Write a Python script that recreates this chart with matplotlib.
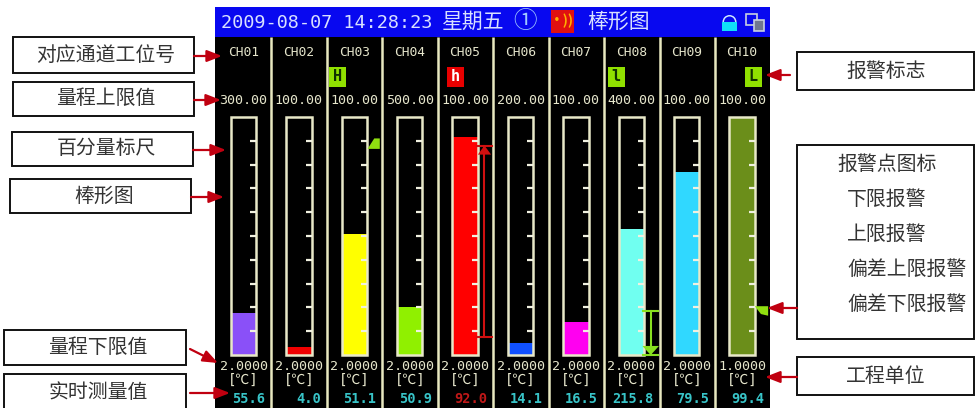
# -*- coding: utf-8 -*-
import matplotlib
matplotlib.use('Agg')
import matplotlib.pyplot as plt
from matplotlib.patches import Rectangle, Polygon, Wedge

plt.rcParams['font.family'] = ['Noto Sans CJK SC', 'DejaVu Sans']

# chart data
channels = ['CH01', 'CH02', 'CH03', 'CH04', 'CH05', 'CH06', 'CH07', 'CH08', 'CH09', 'CH10']
upper_limits = ['300.00', '100.00', '100.00', '500.00', '100.00', '200.00', '100.00', '400.00', '100.00', '100.00']
lower_limits = ['2.0000', '2.0000', '2.0000', '2.0000', '2.0000', '2.0000', '2.0000', '2.0000', '2.0000', '1.0000']
readings = ['55.6', '4.0', '51.1', '50.9', '92.0', '14.1', '16.5', '215.8', '79.5', '99.4']
reading_colors = ['#38c4c8'] * 4 + ['#c01818'] + ['#38c4c8'] * 5
fill_percent = [17.6, 3.4, 51, 20, 91.6, 5, 14, 53, 77, 99.4]
bar_colors = ['#8a50f8', '#f00000', '#ffff00', '#90f000', '#ff0000',
              '#1050ff', '#ff00f0', '#70fff0', '#30d8ff', '#6b8e1a']
scale_ticks = [10, 20, 30, 40, 50, 60, 70, 80, 90]

flag_channels = [2, 4, 7, 9]
flag_letters = ['H', 'h', 'l', 'L']
flag_colors = ['#90e000', '#e80000', '#90e000', '#90e000']
flag_text_colors = ['#103000', '#ffffff', '#103000', '#103000']
flag_offsets = [-16.8, -9.6, -15, 11]

marker_channels = [2, 9]
marker_percent = [90, 20]
range_channels = [4, 7]
range_low = [7.5, 0]
range_high = [88, 18.5]
range_colors = ['#d01010', '#88e020']

left_boxes = [('对应通道工位号', 13, 37, 181, 36, 106),
              ('量程上限值', 13, 82, 181, 34, 106),
              ('百分量标尺', 12, 132, 181, 34, 106),
              ('棒形图', 10, 179, 181, 34, 104),
              ('量程下限值', 4, 330, 182, 35, 98),
              ('实时测量值', 4, 374, 182, 36, 98)]
right_boxes = [('报警标志', 797, 52, 177, 38),
               ('工程单位', 797, 357, 177, 38)]
alarm_lines = ['报警点图标', '下限报警', '上限报警', '偏差上限报警', '偏差下限报警']
alarm_x = [837, 847, 847, 847, 847]
alarm_y = [164, 199, 234, 269, 304]

# arrows as (from x, from y, to x, to y) on the page
arrows = [(194, 56, 222, 56), (194, 100, 221, 100), (193, 150, 226, 150),
          (191, 197, 224, 197), (190, 349, 218, 363), (190, 393, 230, 393),
          (790, 75, 765, 75), (797, 308, 767, 308), (797, 377, 765, 377)]

W, H = 980, 408
fig = plt.figure(figsize=(W / 100, H / 100), dpi=100, facecolor='white')
ax = fig.add_axes([0, 0, 1, 1])
ax.set_xlim(0, W)
ax.set_ylim(H, 0)
ax.axis('off')

LABEL = '#e6e6cc'
MONO = ['DejaVu Sans Mono', 'Noto Sans CJK SC', 'DejaVu Sans']


def col_x(i):
    return 243.5 + 55.4 * i


# screen
ax.add_patch(Rectangle((215, 7), 555, 401, fc='black', ec='none'))
ax.add_patch(Rectangle((215, 7), 555, 30, fc='#0808f0', ec='none'))
ax.text(221, 23, '2009-08-07 14:28:23', family=MONO, fontsize=13.3, color='#d8e0ff',
        ha='left', va='center')
ax.text(442, 22, '星期五', fontsize=15, color='#d8e0ff', ha='left', va='center')
ax.text(525, 22, '①', fontsize=17, color='#a0c8ff', ha='center', va='center')
ax.text(587, 22, '棒形图', fontsize=15, color='#d8e0ff', ha='left', va='center')

# alarm icon
ax.add_patch(Rectangle((551, 10), 23, 23, fc='#e01010', ec='none'))
ax.text(562, 21, '·))', fontsize=10, color='#ffb000', ha='center', va='center', fontweight='bold')
# lock and window icons
ax.add_patch(Rectangle((722, 22), 15, 9, fc='#10e0f8', ec='none'))
ax.add_patch(Wedge((729.5, 22), 7, 180, 360, width=1.5, fc='#d0e8ff', ec='none'))
ax.add_patch(Rectangle((746, 14), 11, 11, fc='#0808f0', ec='#c8d0e0', lw=1.2))
ax.add_patch(Rectangle((754, 20), 10, 11, fc='#707890', ec='#c8d0e0', lw=1.2))

# column separators
for k in range(9):
    ax.plot([271 + 55.5 * k] * 2, [37, 408], color='#e8e8c0', lw=1.8, solid_capstyle='butt')

# column texts
for i in range(10):
    x = col_x(i)
    ax.text(x, 52, channels[i], family=MONO, fontsize=9.3, color=LABEL, ha='center', va='center')
    ax.text(x, 100, upper_limits[i], family=MONO, fontsize=9.6, color=LABEL, ha='center', va='center')
    ax.text(x, 366, lower_limits[i], family=MONO, fontsize=9.6, color=LABEL, ha='center', va='center')
    ax.text(x, 380, '[℃]', family=MONO, fontsize=10, color=LABEL, ha='center', va='center')
    ax.text(x + 22, 399, readings[i], family=MONO, fontsize=9.8, color=reading_colors[i],
            ha='right', va='center', fontweight='bold')

# alarm flags
for ch, letter, c, tc, off in zip(flag_channels, flag_letters, flag_colors, flag_text_colors, flag_offsets):
    x = col_x(ch) + off
    ax.add_patch(Rectangle((x - 8.5, 66.5), 17, 20, fc=c, ec='none'))
    ax.text(x, 76.5, letter, family=MONO, fontsize=11, color=tc, ha='center', va='center', fontweight='bold')

# text boxes
for label, x, y, w, h, cx in left_boxes:
    ax.add_patch(Rectangle((x, y), w, h, fc='white', ec='#111111', lw=1.4))
    ax.text(cx, y + h / 2, label, fontsize=14.3, color='#333333', ha='center', va='center')
for label, x, y, w, h in right_boxes:
    ax.add_patch(Rectangle((x, y), w, h, fc='white', ec='#111111', lw=1.4))
    ax.text(886, y + h / 2, label, fontsize=14.3, color='#333333', ha='center', va='center')
ax.add_patch(Rectangle((797, 145), 177, 194, fc='white', ec='#111111', lw=1.4))
for label, x, y in zip(alarm_lines, alarm_x, alarm_y):
    ax.text(x, y, label, fontsize=14.3, color='#333333', ha='left', va='center')

# bars get their own axes: channel index on x, percent on y
bar_ax = fig.add_axes([215.8 / W, (H - 355) / H, 554 / W, 238 / H])
bar_ax.set_xlim(-0.5, 9.5)
bar_ax.set_ylim(0, 100)
bar_ax.axis('off')
bar_w = 0.46
xs = list(range(10))
bar_ax.bar(xs, fill_percent, width=bar_w, color=bar_colors, linewidth=0)
bar_ax.bar(xs, [100] * 10, width=bar_w, fill=False, edgecolor='#e8e8c8', linewidth=1.8, clip_on=False)
for i in xs:
    bar_ax.hlines(scale_ticks, i + 0.12, i + bar_w / 2, color='#f0f0e0', lw=1.6)

# alarm point markers
for ch, p in zip(marker_channels, marker_percent):
    if ch == 2:
        pts = [(ch + 0.24, p - 3.4), (ch + 0.36, p + 1), (ch + 0.46, p + 1), (ch + 0.46, p - 3.4)]
    else:
        pts = [(ch + 0.23, p + 0.5), (ch + 0.47, p + 0.5), (ch + 0.47, p - 3.5), (ch + 0.34, p - 2.8)]
    bar_ax.add_patch(Polygon(pts, fc='#90e010', ec='none', clip_on=False))

# deviation range arrows
for ch, lo, hi, c in zip(range_channels, range_low, range_high, range_colors):
    x = ch + 0.35
    bar_ax.plot([x, x], [lo, hi], color=c, lw=1.5, clip_on=False)
    bar_ax.plot([x - 0.13, x + 0.13], [hi, hi], color=c, lw=1.5, clip_on=False)
    bar_ax.plot([x - 0.13, x + 0.13], [lo, lo], color=c, lw=1.5, clip_on=False)
    if ch == 4:
        bar_ax.add_patch(Polygon([(x, hi), (x - 0.12, hi - 3.8), (x + 0.12, hi - 3.8)], fc=c, ec='none'))
    else:
        bar_ax.add_patch(Polygon([(x, lo), (x - 0.15, lo + 3.8), (x + 0.15, lo + 3.8)], fc=c, ec='none'))

# red arrows sit on top of the screen
top_ax = fig.add_axes([0, 0, 1, 1])
top_ax.set_xlim(0, W)
top_ax.set_ylim(H, 0)
top_ax.axis('off')
for x0, y0, x1, y1 in arrows:
    top_ax.annotate('', xy=(x1, y1), xytext=(x0, y0),
                    arrowprops=dict(arrowstyle='-|>,head_length=0.9,head_width=0.35',
                                    color='#c00010', lw=1.6, shrinkA=0, shrinkB=0))

fig.savefig('out.png', dpi=100)
